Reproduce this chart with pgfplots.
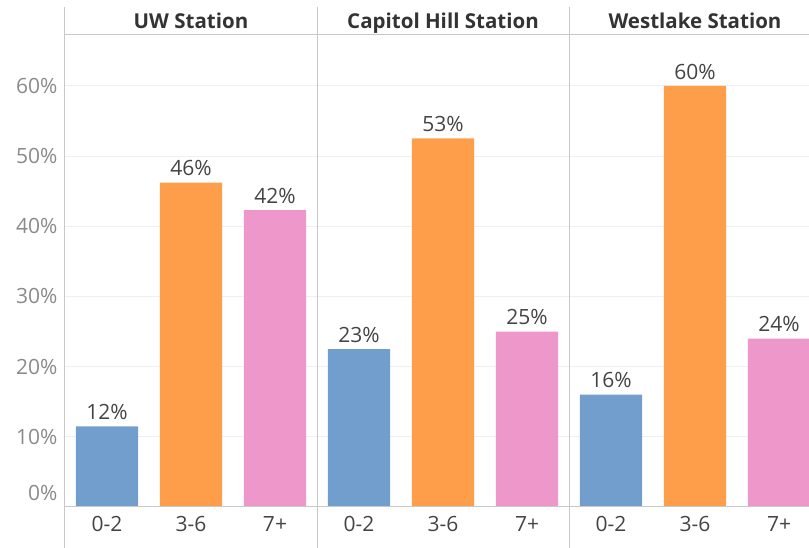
\documentclass[border=0pt]{standalone}
\usepackage{pgfplots}
\pgfplotsset{compat=1.18}
\usepackage{fontspec}
\setmainfont{Open Sans}
\definecolor{cblue}{HTML}{729ECE}
\definecolor{corange}{HTML}{FF9E4A}
\definecolor{cpink}{HTML}{ED97CA}
\definecolor{linegray}{HTML}{C8C8C8}
\definecolor{gridgray}{HTML}{EFEFEF}
\definecolor{ticktext}{HTML}{8A8A8A}
\definecolor{labtext}{HTML}{444444}
\definecolor{titletext}{HTML}{333333}
\begin{document}
\begin{tikzpicture}
\begin{axis}[
  scale only axis, width=744pt, height=472pt,
  xmin=-0.5, xmax=8.357, ymin=0, ymax=67.24,
  axis line style={draw=none},
  major tick length=0pt,
  clip=false,
  /pgf/number format/assume math mode=true,
  ytick={10,20,...,60},
  yticklabel={\pgfmathprintnumber{\tick}\%},
  yticklabel style={text=ticktext, font=\fontsize{21}{24}\selectfont, xshift=-4pt},
  extra y ticks={0},
  extra y tick style={grid=none, yticklabel style={yshift=14pt}},
  ymajorgrids, grid style={gridgray, line width=0.8pt},
  xtick={0,...,8},
  xticklabels={0-2,3-6,7+,0-2,3-6,7+,0-2,3-6,7+},
  xticklabel style={text=labtext, font=\fontsize{21}{24}\selectfont, yshift=-6pt},
  ybar, bar width=0.74,
  point meta=explicit symbolic,
  nodes near coords,
  nodes near coords style={text=labtext, font=\fontsize{21}{24}\selectfont, yshift=3pt},
]
\addplot[fill=cblue, draw=none, bar shift=0pt] coordinates {(0,11.5)[12\%] (3,22.5)[23\%] (6,16.0)[16\%]};
\addplot[fill=corange, draw=none, bar shift=0pt] coordinates {(1,46.2)[46\%] (4,52.5)[53\%] (7,60.0)[60\%]};
\addplot[fill=cpink, draw=none, bar shift=0pt] coordinates {(2,42.3)[42\%] (5,25.0)[25\%] (8,24.0)[24\%]};
\draw[linegray, line width=1pt] (axis cs:-0.5,0) -- (axis cs:8.357,0);
\draw[linegray, line width=1pt] (axis cs:-0.5,67.24) -- (axis cs:8.357,67.24);
\draw[linegray, line width=1pt] (axis cs:-0.5,71.2) -- (axis cs:-0.5,-5.84);
\draw[linegray, line width=1pt] (axis cs:2.5,71.2) -- (axis cs:2.5,-5.84);
\draw[linegray, line width=1pt] (axis cs:5.5,71.2) -- (axis cs:5.5,-5.84);
\node[anchor=base, inner sep=0pt, text=titletext, font=\fontsize{20.5}{24}\selectfont\bfseries] at (axis cs:1,68.1) {UW Station};
\node[anchor=base, inner sep=0pt, text=titletext, font=\fontsize{20.5}{24}\selectfont\bfseries] at (axis cs:4,68.1) {Capitol Hill Station};
\node[anchor=base, inner sep=0pt, text=titletext, font=\fontsize{20.5}{24}\selectfont\bfseries] at (axis cs:7,68.1) {Westlake Station};
\end{axis}
\pgfresetboundingbox
\path (-65pt,-41pt) rectangle (744pt,507pt);
\end{tikzpicture}
\end{document}
